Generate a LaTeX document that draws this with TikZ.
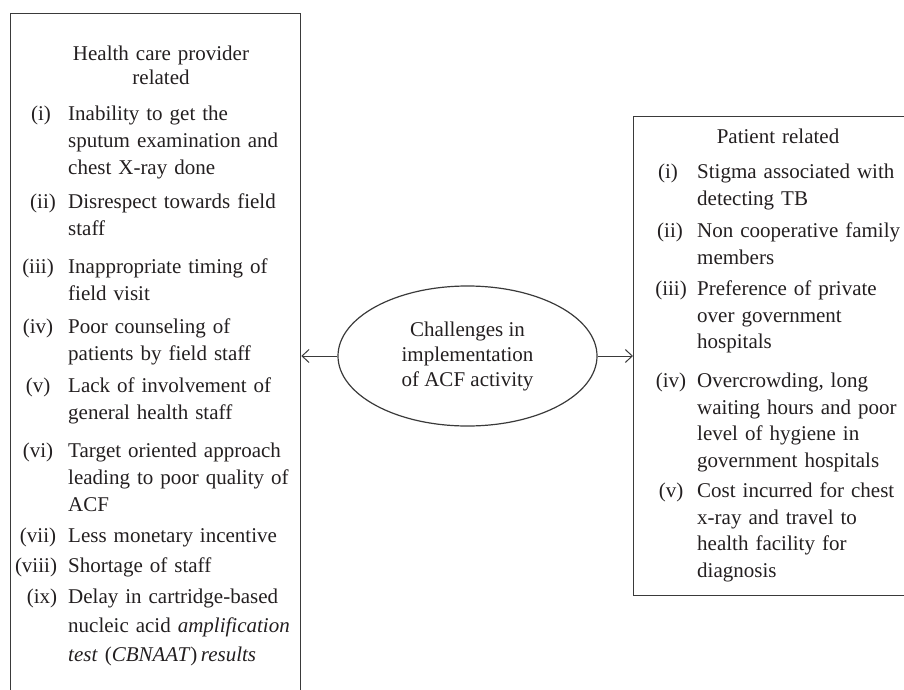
\documentclass[tikz,border=0pt]{standalone}
\usepackage{fontspec}
\setmainfont{Liberation Serif}
\usetikzlibrary{shapes.geometric,arrows.meta}
\definecolor{txt}{HTML}{231F20}
\definecolor{ln}{HTML}{3A3A3A}
\newcommand{\fsz}{\fontsize{21pt}{27pt}\selectfont}
\newcommand{\fszix}{\fontsize{21pt}{29pt}\selectfont}
\newcommand{\fszr}{\fontsize{21pt}{26.5pt}\selectfont}
\newcommand{\fszt}{\fontsize{21pt}{24pt}\selectfont}
\newcommand{\fsze}{\fontsize{21pt}{25pt}\selectfont}
\begin{document}
\begin{tikzpicture}[x=1pt,y=-1pt,
  boxnode/.style={draw=ln, line width=1.3pt, inner sep=0pt, anchor=north west},
  lbl/.style={anchor=base, inner sep=0pt, text=txt, font=\fsz},
  itx/.style={anchor=base west, inner sep=0pt, text=txt, font=\fsz, text width=240pt, align=left},
  itxr/.style={anchor=base west, inner sep=0pt, text=txt, font=\fszr, text width=215pt, align=left},
  ttl/.style={anchor=base, inner sep=0pt, text=txt, font=\fszt, text width=250pt, align=center},
  arr/.style={draw=ln, line width=1pt, -{Straight Barb[length=7pt,width=13pt]}}]
\useasboundingbox (0,0) rectangle (904,690);
\clip (0,0) rectangle (904,690);
% boxes
\node[boxnode, minimum width=290pt, minimum height=700pt] (hcp) at (10,13) {};
\node[boxnode, minimum width=290pt, minimum height=479pt] (pat) at (633,116) {};
% ellipse
\node[ellipse, draw=ln, line width=1.2pt, minimum width=259pt, minimum height=140pt,
      inner sep=0pt, align=center, text=txt, font=\fsze] (ch) at (467.5,356)
      {Challenges in\\implementation\\of ACF activity};
\draw[arr] (ch.west) -- (ch.west -| hcp.east);
\draw[arr] (ch.east) -- (ch.east -| pat.west);
% left titles and items
\node[ttl] (hcpt) at (161,60.5) {Health care provider\\related};
\node[lbl] (l1) at (41,120.5) {(i)};
\node[itx] (t1) at (68,120.5) {Inability to get the\\sputum examination and\\chest X-ray done};
\node[lbl] (l2) at (43,208.5) {(ii)};
\node[itx] (t2) at (68,208.5) {Disrespect towards field\\staff};
\node[lbl] (l3) at (38,273.5) {(iii)};
\node[itx] (t3) at (68,273.5) {Inappropriate timing of\\field visit};
\node[lbl] (l4) at (38,333.5) {(iv)};
\node[itx] (t4) at (68,333.5) {Poor counseling of\\patients by field staff};
\node[lbl] (l5) at (38,392.5) {(v)};
\node[itx] (t5) at (68,392.5) {Lack of involvement of\\general health staff};
\node[lbl] (l6) at (38,457.5) {(vi)};
\node[itx] (t6) at (68,457.5) {Target oriented approach\\leading to poor quality of\\ACF};
\node[lbl] (l7) at (38,542.5) {(vii)};
\node[itx] (t7) at (68,542.5) {Less monetary incentive};
\node[lbl] (l8) at (36,572.5) {(viii)};
\node[itx] (t8) at (68,572.5) {Shortage of staff};
\node[lbl] (l9) at (42,603.5) {(ix)};
\node[itx, font=\fszix] (t9) at (68,603.5) {Delay in cartridge-based\\nucleic acid \textit{amplification}\\\textit{test} (\textit{CBNAAT})\,\textit{results}};
% right titles and items
\node[ttl] (patt) at (778,143.5) {Patient related};
\node[lbl] (r1) at (668,178.5) {(i)};
\node[itxr] (s1) at (697,178.5) {Stigma associated with\\detecting TB};
\node[lbl] (r2) at (670,237.5) {(ii)};
\node[itxr] (s2) at (697,237.5) {Non cooperative family\\members};
\node[lbl] (r3) at (671,295.5) {(iii)};
\node[itxr] (s3) at (697,295.5) {Preference of private\\over government\\hospitals};
\node[lbl] (r4) at (671,387.5) {(iv)};
\node[itxr] (s4) at (697,387.5) {Overcrowding, long\\waiting hours and poor\\level of hygiene in\\government hospitals};
\node[lbl] (r5) at (671,497.5) {(v)};
\node[itxr] (s5) at (697,497.5) {Cost incurred for chest\\x-ray and travel to\\health facility for\\diagnosis};
\end{tikzpicture}
\end{document}
